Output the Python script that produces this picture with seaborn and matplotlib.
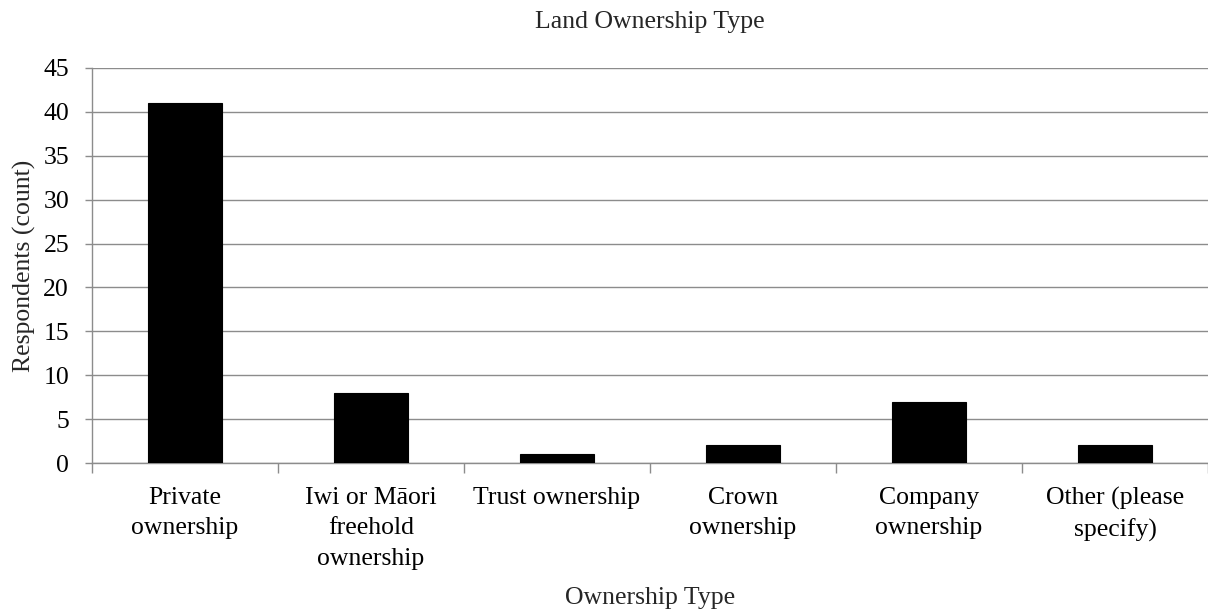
import matplotlib
matplotlib.use("Agg")
import matplotlib.pyplot as plt
import seaborn as sns
import pandas as pd
import numpy as np
from matplotlib.ticker import FixedLocator, MultipleLocator

categories = [
    "Private\nownership",
    "Iwi or Māori\nfreehold\nownership",
    "Trust ownership",
    "Crown\nownership",
    "Company\nownership",
    "Other (please\nspecify)",
]
respondents = [41, 8, 1, 2, 7, 2]

df = pd.DataFrame({"type": categories, "count": respondents})

sns.set_style("white")
plt.rcParams["font.family"] = ["Liberation Serif", "DejaVu Serif"]

FS = 18.5
fig = plt.figure(figsize=(12.08, 6.11), dpi=100)
ax = fig.add_axes([92 / 1208, 1 - 463 / 611, (1208 - 92) / 1208, (463 - 68) / 611])

sns.barplot(data=df, x="type", y="count", color="black", width=0.40,
            edgecolor="black", linewidth=0.8, ax=ax, zorder=3)

grid_c = "#8c8c8c"
ax.set_ylim(0, 45)
ax.set_xlim(-0.5, len(categories) - 0.5)
ax.yaxis.set_major_locator(MultipleLocator(5))
ax.grid(axis="y", color=grid_c, linewidth=1.0, zorder=0)
ax.set_axisbelow(True)

for side in ["top", "right"]:
    ax.spines[side].set_visible(False)
for side in ["left", "bottom"]:
    ax.spines[side].set_color(grid_c)
    ax.spines[side].set_linewidth(1.0)

ax.tick_params(axis="y", which="major", direction="out", length=5, width=1,
               color=grid_c, labelsize=FS, labelcolor="black", pad=11.5, left=True)
ax.tick_params(axis="x", which="major", length=0, labelsize=FS,
               labelcolor="black", pad=17.5)
ax.xaxis.set_minor_locator(FixedLocator(np.arange(-0.5, len(categories), 1.0)))
ax.tick_params(axis="x", which="minor", direction="out", length=7, width=1,
               color=grid_c, bottom=True)
for lbl in ax.get_xticklabels():
    lbl.set_linespacing(1.48)
    lbl.set_verticalalignment("top")

ax.set_title("Land Ownership Type", fontsize=FS, pad=29)
ax.set_xlabel("Ownership Type", fontsize=FS)
ax.xaxis.set_label_coords(0.5, -0.313)
ax.set_ylabel("Respondents (count)", fontsize=FS, labelpad=5)

fig.savefig("out.png", dpi=100)
